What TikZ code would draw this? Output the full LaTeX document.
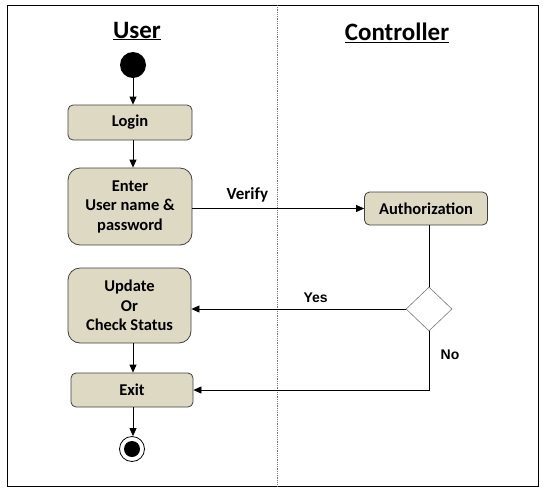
\documentclass[tikz,border=0pt]{standalone}
\usepackage{fontspec}
\setmainfont{Carlito}
\newfontfamily\arialfont{Liberation Sans}
\usetikzlibrary{shapes.geometric,arrows.meta}
\definecolor{actFill}{RGB}{221,217,195}
\definecolor{actLine}{RGB}{64,64,64}
\definecolor{laneLine}{RGB}{120,120,120}

\begin{document}
\begin{tikzpicture}[x=1pt,y=-1pt,
  act/.style={draw=actLine,fill=actFill,line width=0.8pt,align=center,inner sep=2pt,
    font=\fontsize{16.5}{19.5}\selectfont\bfseries},
  flow/.style={-{Triangle[length=8pt,width=7pt]},line width=0.8pt},
  lane/.style={font=\fontsize{25}{30}\selectfont\bfseries},
  guard/.style={font=\arialfont\fontsize{14}{16}\selectfont\bfseries}]
\useasboundingbox (0,0) rectangle (545,493);
\draw[line width=1pt] (7,5) rectangle (538,486);
\draw[laneLine,densely dotted,line width=0.8pt] (277,5) -- (277,486);

\node[lane] (userTitle) at (137,31) {\underline{User}};
\node[lane] (ctrlTitle) at (397,33) {\underline{Controller}};

\node[circle,fill=black,minimum size=26pt,inner sep=0pt] (start) at (133,65) {};
\node[act,rounded corners=5pt,minimum width=124pt,minimum height=35pt] (login) at (130,122.5) {Login};
\node[act,rounded corners=12pt,minimum width=124pt,minimum height=77pt] (enter) at (130,206.5) {Enter\\User name \&\\password};
\node[act,rounded corners=12pt,minimum width=123pt,minimum height=75pt] (update) at (129.5,305.5) {Update\\Or\\Check Status};
\node[act,rounded corners=5pt,minimum width=122pt,minimum height=34pt] (exit) at (132,390) {Exit};
\node[circle,draw=black,fill=white,line width=0.8pt,minimum size=25pt,inner sep=0pt] (stop) at (132,449) {};
\node[circle,fill=black,minimum size=16pt,inner sep=0pt] (stopDot) at (stop) {};

\node[act,rounded corners=5pt,minimum width=123pt,minimum height=33pt] (auth) at (426,208.5) {Authorization};
\node[diamond,draw=laneLine,fill=white,line width=0.6pt,minimum width=46pt,minimum height=44pt,inner sep=0pt] (check) at (429,309) {};

\draw[flow] (start) -- (start |- login.north);
\draw[flow] (login.south -| start) -- (enter.north -| start);
\draw[flow] (update.south -| start) -- (exit.north -| start);
\draw[flow] (exit.south -| start) -- (stop.north -| start);
\draw[flow] (enter.east |- auth.west) -- node[pos=.32,above=3pt,font=\fontsize{17}{20}\selectfont\bfseries] (verifyLbl) {Verify} (auth.west);
\draw[line width=0.8pt] (check.north |- auth.south) -- (check.north);
\draw[flow] (check.west) -- node[pos=.42,above=3pt,guard] (yesLbl) {Yes} (update.east |- check.west);
\draw[flow] (check.south) |- node[pos=.2,right=8pt,guard] (noLbl) {No} (exit.east);
\end{tikzpicture}
\end{document}
